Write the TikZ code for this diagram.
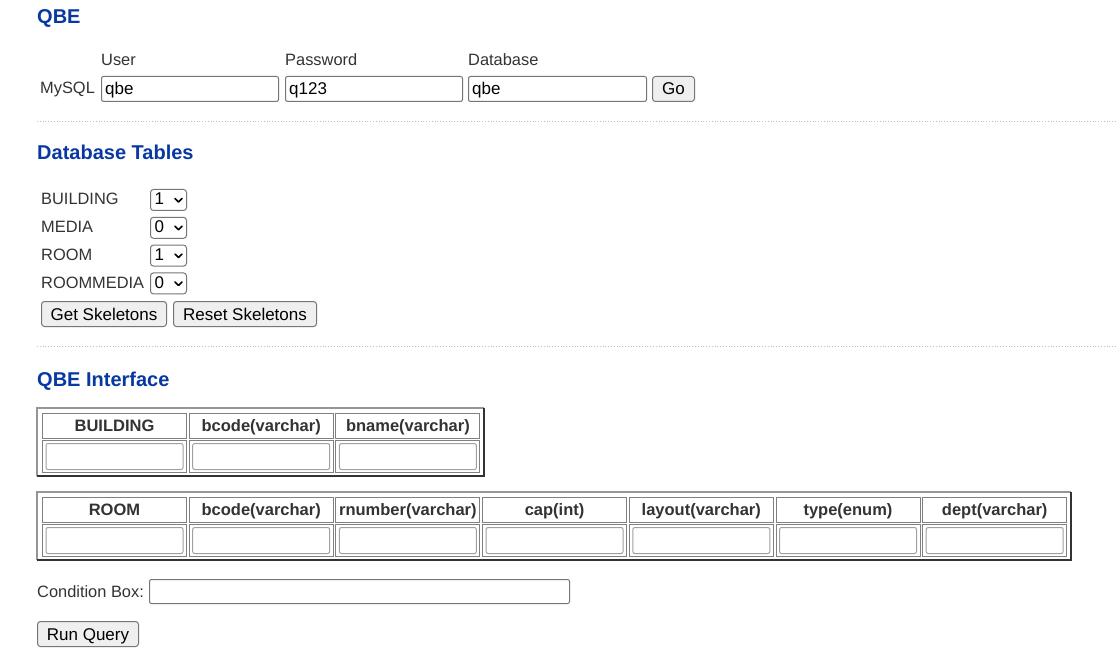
\documentclass[tikz,border=0pt]{standalone}
\usepackage{fontspec}
\setmainfont{Liberation Sans}
\usetikzlibrary{calc}
\definecolor{headblue}{RGB}{8,56,162}
\definecolor{txt}{RGB}{51,51,51}
\definecolor{inborder}{RGB}{118,118,118}
\definecolor{btnfill}{RGB}{239,239,239}
\definecolor{cellgray}{RGB}{128,128,128}
\definecolor{fieldgray}{RGB}{160,160,160}
\definecolor{outlight}{RGB}{150,150,150}
\definecolor{outdark}{RGB}{50,50,50}
\definecolor{sepgray}{RGB}{190,190,190}
\begin{document}
\begin{tikzpicture}[x=1pt,y=-1pt,
  every node/.style={inner sep=0pt, font=\fontsize{16.4}{19}\selectfont},
  lbl/.style={anchor=base west, text=txt},
  intext/.style={anchor=base west, text=black, font=\fontsize{17}{20}\selectfont},
  head/.style={anchor=base west, text=headblue, font=\fontsize{20}{23}\selectfont\bfseries},
  field/.style={draw=inborder, line width=1pt, rounded corners=2pt, fill=white, anchor=north west},
  selbox/.style={draw=inborder, line width=1pt, rounded corners=3pt, fill=white, anchor=north west, minimum width=36pt, minimum height=21pt},
  btn/.style={draw=inborder, line width=1pt, rounded corners=3pt, fill=btnfill, anchor=north west,
    minimum height=25pt, text height=12pt, text depth=0pt, text=black, font=\fontsize{17}{20}\selectfont},
  chev/.style={draw=black, line width=1.6pt, line cap=round, line join=round},
  sepline/.style={draw=sepgray, dotted, line width=0.8pt},
  hcell/.style={draw=cellgray, line width=1pt, anchor=north west, minimum width=144pt, minimum height=25pt,
    text height=11.5pt, text depth=0pt, text=txt, font=\fontsize{16.5}{19}\selectfont\bfseries},
  icell/.style={draw=cellgray, line width=1pt, anchor=north west, minimum width=144pt, minimum height=32pt},
  ifield/.style={draw=fieldgray, line width=1pt, rounded corners=2pt, minimum width=137pt, minimum height=26pt},
  tabbox/.style={anchor=north west, minimum height=68pt},
  oLight/.style={draw=outlight, line width=2pt},
  oDark/.style={draw=outdark, line width=2pt}
]
\useasboundingbox[fill=white] (0,0) rectangle (1117,655);

% ---- QBE login ----
\node[head] (qbe) at (37,24) {QBE};
\node[lbl] (luser) at (101,66) {User};
\node[lbl] (lpass) at (285,66) {Password};
\node[lbl] (ldb) at (468,66) {Database};
\node[lbl] (mysql) at (40,94) {MySQL};
\node[field, minimum width=177pt, minimum height=25pt] (fuser) at (101,76) {};
\node[field, minimum width=177pt, minimum height=25pt] (fpass) at (285,76) {};
\node[field, minimum width=178pt, minimum height=25pt] (fdb) at (468,76) {};
\node[intext] (vuser) at (105,94.5) {qbe};
\node[intext] (vpass) at (289,94.5) {q123};
\node[intext] (vdb) at (472,94.5) {qbe};
\node[btn, minimum width=42pt] (go) at (652,76) {Go};

\coordinate (s1a) at (37,121);
\coordinate (s1b) at (1117,121);
\draw[sepline] (s1a) -- (s1b);

% ---- Database tables ----
\node[head] (dbt) at (37,160) {Database Tables};
\foreach \i/\nm/\v in {0/BUILDING/1,1/MEDIA/0,2/ROOM/1,3/ROOMMEDIA/0}{
  \pgfmathsetmacro{\yt}{189+27.8*\i}
  \pgfmathsetmacro{\yb}{205+27.8*\i}
  \node[lbl] (tl\i) at (41,\yb) {\nm};
  \node[selbox] (sel\i) at (150,\yt) {};
  \node[intext] (sv\i) at (154.5,\yb) {\v};
  \draw[chev] ([shift={(-12,-1.5)}]sel\i.east) -- ++(3.5,3.5) -- ++(3.5,-3.5);
}
\node[btn, minimum width=125pt] (getsk) at (41,301) {Get Skeletons};
\node[btn, minimum width=143pt] (resetsk) at (173,301) {Reset Skeletons};

\coordinate (s2a) at (37,346);
\coordinate (s2b) at (1117,346);
\draw[sepline] (s2a) -- (s2b);

% ---- QBE interface ----
\node[head] (qbei) at (37,386) {QBE Interface};

% table 1
\node[tabbox, minimum width=447pt] (tab1) at (37,408) {};
\draw[oLight] (tab1.south west) -- (tab1.north west) -- (tab1.north east);
\draw[oDark] (tab1.north east) -- (tab1.south east) -- (tab1.south west);
\foreach \i/\h in {0/BUILDING,1/bcode(varchar),2/bname(varchar)}{
  \pgfmathsetmacro{\xx}{42+146.7*\i}
  \node[hcell] (ah\i) at (\xx,413) {\h};
  \node[icell] (ac\i) at (\xx,440) {};
  \node[ifield] (af\i) at (ac\i.center) {};
}

% table 2
\node[tabbox, minimum width=1034pt] (tab2) at (37,492) {};
\draw[oLight] (tab2.south west) -- (tab2.north west) -- (tab2.north east);
\draw[oDark] (tab2.north east) -- (tab2.south east) -- (tab2.south west);
\foreach \i/\h in {0/ROOM,1/bcode(varchar),2/rnumber(varchar),3/cap(int),4/layout(varchar),5/type(enum),6/dept(varchar)}{
  \pgfmathsetmacro{\xx}{42+146.7*\i}
  \node[hcell] (bh\i) at (\xx,497) {\h};
  \node[icell] (bc\i) at (\xx,524) {};
  \node[ifield] (bf\i) at (bc\i.center) {};
}

% condition box & run
\node[lbl] (condl) at (37,597) {Condition Box:};
\node[field, minimum width=420pt, minimum height=24pt] (cond) at (149,579) {};
\node[btn, minimum width=101pt] (run) at (37,621) {Run Query};
\end{tikzpicture}
\end{document}
